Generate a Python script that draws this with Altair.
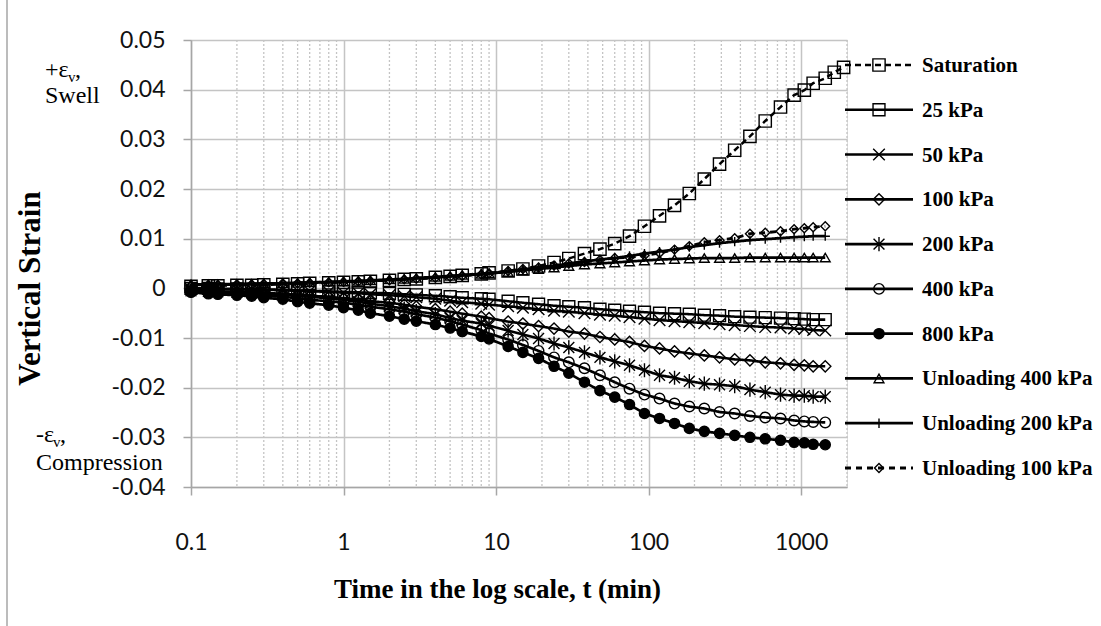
import altair as alt
import pandas as pd

series_names = ["Saturation", "25 kPa", "50 kPa", "100 kPa", "200 kPa", "400 kPa",
                "800 kPa", "Unloading 400 kPa", "Unloading 200 kPa", "Unloading 100 kPa"]

times = [0.1, 0.13, 0.15, 0.2, 0.25, 0.3, 0.4, 0.5, 0.6, 0.8,
         1, 1.25, 1.5, 2, 2.5, 3, 4, 5, 6, 8,
         9, 12, 15, 19, 24, 30, 38, 48, 60, 75,
         94, 118, 148, 185, 232, 292, 367, 462, 582, 733,
         900, 1050, 1200, 1440]
times_sat = times + [1650, 1900]

saturation = [0.0004, 0.0005, 0.0005, 0.0006, 0.0006, 0.0007, 0.0008, 0.0009, 0.0010, 0.0011,
              0.0012, 0.0013, 0.0014, 0.0016, 0.0018, 0.0019, 0.0022, 0.0024, 0.0026, 0.0029,
              0.0031, 0.0035, 0.0039, 0.0045, 0.0052, 0.0060, 0.0070, 0.0079, 0.0090, 0.0105,
              0.0125, 0.0146, 0.0167, 0.0191, 0.0220, 0.0250, 0.0278, 0.0306, 0.0337, 0.0365,
              0.0389, 0.0399, 0.0413, 0.0423, 0.0435, 0.0445]
kpa25 = [0.0000, 0.0000, -0.0001, -0.0001, -0.0002, -0.0002, -0.0003, -0.0004, -0.0005, -0.0006,
         -0.0007, -0.0008, -0.0009, -0.0010, -0.0012, -0.0013, -0.0015, -0.0017, -0.0019, -0.0021,
         -0.0022, -0.0026, -0.0029, -0.0032, -0.0035, -0.0037, -0.0039, -0.0042, -0.0044, -0.0046,
         -0.0048, -0.0050, -0.0051, -0.0052, -0.0054, -0.0055, -0.0057, -0.0058, -0.0059, -0.0060,
         -0.0061, -0.0062, -0.0063, -0.0063]
kpa50 = [-0.0001, -0.0001, -0.0002, -0.0002, -0.0003, -0.0003, -0.0004, -0.0005, -0.0006, -0.0007,
         -0.0009, -0.0010, -0.0012, -0.0014, -0.0016, -0.0018, -0.0021, -0.0025, -0.0028, -0.0031,
         -0.0033, -0.0036, -0.0039, -0.0042, -0.0045, -0.0047, -0.0050, -0.0053, -0.0055, -0.0058,
         -0.0061, -0.0064, -0.0066, -0.0068, -0.0070, -0.0072, -0.0074, -0.0076, -0.0078, -0.0079,
         -0.0081, -0.0082, -0.0084, -0.0085]
kpa100 = [-0.0004, -0.0005, -0.0006, -0.0007, -0.0008, -0.0009, -0.0011, -0.0013, -0.0015, -0.0017,
          -0.0020, -0.0023, -0.0026, -0.0029, -0.0033, -0.0037, -0.0042, -0.0047, -0.0051, -0.0057,
          -0.0060, -0.0067, -0.0071, -0.0076, -0.0081, -0.0087, -0.0091, -0.0098, -0.0103, -0.0108,
          -0.0116, -0.0121, -0.0127, -0.0131, -0.0135, -0.0139, -0.0143, -0.0145, -0.0149, -0.0151,
          -0.0154, -0.0155, -0.0157, -0.0157]
kpa200 = [-0.0005, -0.0006, -0.0007, -0.0008, -0.0009, -0.0011, -0.0013, -0.0015, -0.0017, -0.0020,
          -0.0023, -0.0027, -0.0031, -0.0036, -0.0041, -0.0046, -0.0052, -0.0060, -0.0065, -0.0071,
          -0.0075, -0.0085, -0.0093, -0.0101, -0.0111, -0.0119, -0.0129, -0.0139, -0.0147, -0.0155,
          -0.0165, -0.0175, -0.0180, -0.0187, -0.0192, -0.0194, -0.0197, -0.0204, -0.0209, -0.0214,
          -0.0216, -0.0216, -0.0218, -0.0218]
kpa400 = [-0.0006, -0.0008, -0.0009, -0.0011, -0.0013, -0.0015, -0.0017, -0.0020, -0.0023, -0.0026,
          -0.0029, -0.0033, -0.0037, -0.0042, -0.0047, -0.0052, -0.0059, -0.0066, -0.0073, -0.0084,
          -0.0091, -0.0103, -0.0114, -0.0126, -0.0139, -0.0149, -0.0161, -0.0175, -0.0189, -0.0202,
          -0.0214, -0.0222, -0.0232, -0.0238, -0.0242, -0.0249, -0.0252, -0.0257, -0.0260, -0.0262,
          -0.0266, -0.0268, -0.0269, -0.0270]
kpa800 = [-0.0008, -0.0011, -0.0012, -0.0014, -0.0016, -0.0019, -0.0022, -0.0027, -0.0030, -0.0034,
          -0.0039, -0.0044, -0.0050, -0.0056, -0.0062, -0.0066, -0.0073, -0.0080, -0.0087, -0.0097,
          -0.0102, -0.0117, -0.0129, -0.0141, -0.0157, -0.0171, -0.0189, -0.0206, -0.0219, -0.0234,
          -0.0252, -0.0262, -0.0272, -0.0282, -0.0288, -0.0292, -0.0296, -0.0300, -0.0303, -0.0306,
          -0.0310, -0.0311, -0.0314, -0.0315]
unl400 = [0.0008, 0.0008, 0.0008, 0.0009, 0.0009, 0.0010, 0.0010, 0.0011, 0.0012, 0.0013,
          0.0014, 0.0015, 0.0016, 0.0018, 0.0019, 0.0021, 0.0023, 0.0025, 0.0027, 0.0029,
          0.0030, 0.0033, 0.0036, 0.0039, 0.0042, 0.0045, 0.0048, 0.0050, 0.0052, 0.0054,
          0.0056, 0.0058, 0.0059, 0.0060, 0.0061, 0.0061, 0.0061, 0.0062, 0.0062, 0.0062,
          0.0062, 0.0062, 0.0062, 0.0062]
unl200 = [0.0007, 0.0007, 0.0008, 0.0008, 0.0009, 0.0009, 0.0010, 0.0011, 0.0012, 0.0012,
          0.0013, 0.0014, 0.0015, 0.0017, 0.0018, 0.0020, 0.0022, 0.0024, 0.0026, 0.0029,
          0.0030, 0.0034, 0.0038, 0.0042, 0.0045, 0.0050, 0.0054, 0.0058, 0.0061, 0.0065,
          0.0070, 0.0074, 0.0078, 0.0083, 0.0087, 0.0091, 0.0094, 0.0097, 0.0099, 0.0101,
          0.0103, 0.0104, 0.0105, 0.0105]
unl100 = [0.0006, 0.0007, 0.0007, 0.0008, 0.0008, 0.0009, 0.0010, 0.0010, 0.0011, 0.0012,
          0.0013, 0.0014, 0.0015, 0.0016, 0.0018, 0.0019, 0.0021, 0.0023, 0.0025, 0.0028,
          0.0030, 0.0035, 0.0039, 0.0042, 0.0046, 0.0050, 0.0053, 0.0057, 0.0061, 0.0062,
          0.0066, 0.0071, 0.0078, 0.0085, 0.0093, 0.0097, 0.0101, 0.0110, 0.0112, 0.0115,
          0.0119, 0.0121, 0.0123, 0.0125]

x_major = [0.1, 1, 10, 100, 1000]
x_minor = [0.2, 0.3, 0.4, 0.5, 0.6, 0.7, 0.8, 0.9,
           2, 3, 4, 5, 6, 7, 8, 9,
           20, 30, 40, 50, 60, 70, 80, 90,
           200, 300, 400, 500, 600, 700, 800, 900, 2000]
y_ticks = [-0.04, -0.03, -0.02, -0.01, 0, 0.01, 0.02, 0.03, 0.04, 0.05]

# ---- styles ----
X_PATH = "M-1,-1L1,1M-1,1L1,-1"
AST_PATH = "M-1,-1L1,1M-1,1L1,-1M0,-1.3L0,1.3"
PLUS_PATH = "M0,-1L0,1M-1,0L1,0"
shapes = ["square", "square", X_PATH, "diamond", AST_PATH, "circle", "circle",
          "triangle-up", PLUS_PATH, "diamond"]
sizes = [150, 80, 130, 170, 150, 140, 140, 150, 120, 90]
fills = ["transparent"] * 6 + ["black"] + ["transparent"] * 3
dashes = [[6, 4], [1, 0], [1, 0], [1, 0], [1, 0], [1, 0], [1, 0], [1, 0], [1, 0], [6, 5]]
widths = [2.5, 2.8, 2.8, 2.8, 2.8, 2.8, 1.4, 2.8, 2.8, 2.5]

all_series = [saturation, kpa25, kpa50, kpa100, kpa200, kpa400, kpa800, unl400, unl200, unl100]
rows = []
for name, vals in zip(series_names, all_series):
    ts = times_sat if name == "Saturation" else times
    for t, v in zip(ts, vals):
        rows.append({"series": name, "t": t, "v": v})
df = pd.DataFrame(rows)
legend_df = pd.DataFrame({"series": series_names})
minor_df = pd.DataFrame({"t": x_minor})

sc_shape = alt.Scale(domain=series_names, range=shapes)
sc_size = alt.Scale(domain=series_names, range=sizes)
sc_fill = alt.Scale(domain=series_names, range=fills)
sc_dash = alt.Scale(domain=series_names, range=dashes)
sc_width = alt.Scale(domain=series_names, range=widths)

xscale = alt.Scale(type="log", domain=[0.1, 2000], nice=False)
yscale = alt.Scale(domain=[-0.04, 0.05], nice=False, zero=False)

GRID = "#c4c4c4"
AX = "#a6a6a6"

xaxis = alt.Axis(values=x_major, labelExpr="format(datum.value, '~g')",
                 title="Time in the log scale, t (min)",
                 grid=True, gridColor=GRID, gridWidth=1.5,
                 domainColor=AX, domainWidth=1.5, tickColor=AX, tickWidth=1.5, tickSize=8,
                 labelFont="Lato", labelFontSize=23, labelColor="#111111",
                 labelBaseline="alphabetic", labelPadding=54, labelFlush=False,
                 titleFont="Liberation Serif", titleFontSize=27, titleFontWeight="bold",
                 titleColor="black", titleX=306, titleY=110, titleBaseline="alphabetic",
                 titleAlign="center")
yaxis = alt.Axis(values=y_ticks,
                 labelExpr="abs(datum.value) < 1e-9 ? '0' : (datum.value < 0 ? '-' + format(-datum.value, '.2f') : format(datum.value, '.2f'))",
                 title="Vertical Strain",
                 grid=True, gridColor=GRID, gridWidth=1.5,
                 domainColor=AX, domainWidth=1.5, tickColor=AX, tickWidth=1.5, tickSize=8,
                 labelFont="Lato", labelFontSize=23, labelColor="#111111",
                 labelPadding=18, labelBaseline="middle",
                 titleFont="Liberation Serif", titleFontSize=31, titleFontWeight="bold",
                 titleColor="black", titleX=-161, titleY=248, titleAngle=270,
                 titleBaseline="middle", titleAlign="center")

minor = alt.Chart(minor_df).mark_rule(color=GRID, strokeWidth=1.3, strokeDash=[2, 2]).encode(
    x=alt.X("t:Q", scale=xscale, axis=xaxis))

lines = alt.Chart(df).mark_line(color="black", clip=True).encode(
    x=alt.X("t:Q", scale=xscale, axis=xaxis),
    y=alt.Y("v:Q", scale=yscale, axis=yaxis),
    detail="series:N",
    strokeDash=alt.StrokeDash("series:N", scale=sc_dash, legend=None),
    strokeWidth=alt.StrokeWidth("series:N", scale=sc_width, legend=None),
)
points = alt.Chart(df).mark_point(filled=False, stroke="black", strokeWidth=1.4, opacity=1).encode(
    x=alt.X("t:Q", scale=xscale, axis=xaxis),
    y=alt.Y("v:Q", scale=yscale, axis=yaxis),
    shape=alt.Shape("series:N", scale=sc_shape, legend=None),
    size=alt.Size("series:N", scale=sc_size, legend=None),
    fill=alt.Fill("series:N", scale=sc_fill, legend=None),
)
main = alt.layer(minor, lines, points)

ly = alt.Y("series:N", scale=alt.Scale(type="point", domain=series_names, range=[25, 428], padding=0),
           axis=None)
leg_rule = alt.Chart(legend_df).mark_rule(color="black").encode(
    x=alt.value(654), x2=alt.value(722), y=ly,
    strokeDash=alt.StrokeDash("series:N", scale=sc_dash, legend=None),
    strokeWidth=alt.StrokeWidth("series:N", scale=sc_width, legend=None))
leg_pt = alt.Chart(legend_df).mark_point(filled=False, stroke="black", strokeWidth=1.4, opacity=1).encode(
    x=alt.value(688), y=ly,
    shape=alt.Shape("series:N", scale=sc_shape, legend=None),
    size=alt.Size("series:N", scale=sc_size, legend=None),
    fill=alt.Fill("series:N", scale=sc_fill, legend=None))
leg_txt = alt.Chart(legend_df).mark_text(align="left", baseline="middle", font="Liberation Serif",
                                         fontSize=21, fontWeight="bold", color="black", dy=1).encode(
    x=alt.value(731), y=ly, text="series:N")
legend = alt.layer(leg_rule, leg_pt, leg_txt)

one = pd.DataFrame({"a": [0]})
def note(txt, x, y, size=24):
    return alt.Chart(one).mark_text(text=txt, align="left", baseline="alphabetic",
                                    font="Liberation Serif", fontSize=size, color="black").encode(
        x=alt.value(x), y=alt.value(y))

notes = alt.layer(
    note("+ε", -146, 37), note("v", -123, 42, 15), note(",", -116, 37), note("Swell", -146, 63),
    note("-ε", -155, 402), note("v", -138, 407, 15), note(",", -131, 402), note("Compression", -155, 430),
    alt.Chart(one).mark_rule(color="#a6a6a6", strokeWidth=1.5).encode(
        x=alt.value(-184), y=alt.value(-40), y2=alt.value(586)),
)

chart = alt.layer(main, legend, notes).resolve_scale(y="independent").properties(
    width=656, height=447,
    autosize=alt.AutoSizeParams(type="none"),
    padding={"left": 191, "top": 40, "right": 254, "bottom": 139},
).configure_view(stroke=None).configure(background="white")

chart.save("out.html", embed_options={"renderer": "svg", "actions": False})
